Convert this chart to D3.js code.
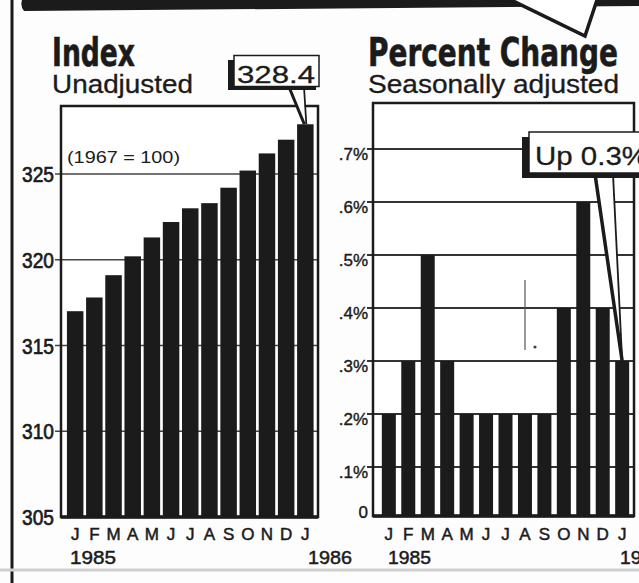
<!DOCTYPE html>
<html><head><meta charset="utf-8">
<script src="https://cdn.jsdelivr.net/npm/d3@7"></script>
<style>html,body{margin:0;padding:0;background:#fff;overflow:hidden}</style>
</head><body>
<script>
// ---- data ----
const months = ["J","F","M","A","M","J","J","A","S","O","N","D","J"];
const indexValues = [317.0, 317.8, 319.1, 320.2, 321.3, 322.2, 323.0, 323.3, 324.2, 325.2, 326.2, 327.0, 327.9];
const pctValues = [0.2, 0.3, 0.5, 0.3, 0.2, 0.2, 0.2, 0.2, 0.2, 0.4, 0.6, 0.4, 0.3];
const indexTicks = [305, 310, 315, 320, 325];
const indexTickLabels = ["305", "310", "315", "320", "325"];
const pctTicks = [0, 0.1, 0.2, 0.3, 0.4, 0.5, 0.6, 0.7];
const pctTickLabels = ["0", ".1%", ".2%", ".3%", ".4%", ".5%", ".6%", ".7%"];
const yearLabels = ["1985", "1986"];
const leftTitle = "Index", leftSub = "Unadjusted", baseNote = "(1967 = 100)";
const rightTitle = "Percent Change", rightSub = "Seasonally adjusted";
const leftCallout = "328.4", rightCallout = "Up 0.3%";

const W = 639, H = 583;
const INK = "#1b1b1b";
const CONDENSED = "'Liberation Sans Narrow','DejaVu Sans Condensed','Roboto Condensed','Liberation Sans',sans-serif";
const SANS = "'Liberation Sans','Helvetica','Arial',sans-serif";

const svg = d3.select("body").append("svg").attr("width", W).attr("height", H);
svg.append("rect").attr("width", W).attr("height", H).attr("fill", "#fdfdfd");

// top banner with pointer
svg.append("path").attr("d", "M22,0 L639,0 L639,6 L24,11 Q20,6 22,0 Z").attr("fill", INK);
svg.append("path").attr("d", "M505,-3 L585,36 L598,-3").attr("fill", "#fff").attr("stroke", INK).attr("stroke-width", 3.5).attr("stroke-linejoin", "miter");
// outer left border
svg.append("line").attr("x1", 12).attr("x2", 12).attr("y1", 0).attr("y2", H).attr("stroke", INK).attr("stroke-width", 3);
// bottom rule
svg.append("line").attr("x1", 0).attr("x2", W).attr("y1", 570).attr("y2", 570).attr("stroke", "#cfcfcf").attr("stroke-width", 3);

function txt(x, y, s, opts) {
  const t = svg.append("text").attr("x", x).attr("y", y).text(s)
    .attr("font-family", opts.family || SANS).attr("font-size", opts.size)
    .attr("font-weight", opts.weight || "normal").attr("fill", INK);
  if (opts.len) t.attr("textLength", opts.len).attr("lengthAdjust", "spacingAndGlyphs");
  if (opts.anchor) t.attr("text-anchor", opts.anchor);
  if (opts.stroke) t.attr("stroke", INK).attr("stroke-width", opts.stroke);
  return t;
}
txt(52, 66, leftTitle, {family: CONDENSED, size: 39, weight: "bold", len: 83, stroke: 0.6});
txt(52, 93, leftSub, {size: 25, len: 141, stroke: 0.3});
txt(368, 66, rightTitle, {family: CONDENSED, size: 39, weight: "bold", len: 250, stroke: 0.6});
txt(368, 93, rightSub, {size: 25, len: 251, stroke: 0.3});

// ---------- LEFT PANEL ----------
const L = {x0: 61, x1: 318, y0: 106, y1: 517};
const xL = d3.scaleBand().domain(d3.range(months.length)).range([65, 315.5]).paddingInner(0.14).paddingOuter(0.1);
const yL = d3.scaleLinear().domain([305, 325]).range([517, 174]);

svg.append("rect").attr("x", L.x0).attr("y", L.y0).attr("width", L.x1 - L.x0).attr("height", L.y1 - L.y0)
  .attr("fill", "#fff");
svg.append("g").selectAll("line").data(indexTicks.slice(1)).join("line")
  .attr("x1", 55).attr("x2", L.x1).attr("y1", d => yL(d)).attr("y2", d => yL(d))
  .attr("stroke", "#444").attr("stroke-width", 1.5);
svg.append("g").selectAll("text").data(indexTicks).join("text")
  .attr("x", 54).attr("y", d => yL(d) + 8).attr("text-anchor", "end")
  .attr("font-family", SANS).attr("font-size", 22).attr("fill", INK)
  .attr("stroke", INK).attr("stroke-width", 0.7)
  .attr("textLength", 32).attr("lengthAdjust", "spacingAndGlyphs")
  .text((d, i) => indexTickLabels[i]);
txt(67, 163, baseNote, {size: 16, len: 113});

svg.append("g").selectAll("rect").data(indexValues).join("rect")
  .attr("x", (d, i) => xL(i)).attr("width", xL.bandwidth())
  .attr("y", d => yL(d)).attr("height", d => L.y1 - yL(d))
  .attr("fill", INK);
svg.append("rect").attr("x", L.x0).attr("y", L.y0).attr("width", L.x1 - L.x0).attr("height", L.y1 - L.y0)
  .attr("fill", "none").attr("stroke", INK).attr("stroke-width", 2.5);
svg.append("line").attr("x1", L.x0).attr("x2", L.x1).attr("y1", L.y1).attr("y2", L.y1).attr("stroke", INK).attr("stroke-width", 3.5);

svg.append("g").selectAll("text").data(months).join("text")
  .attr("x", (d, i) => xL(i) + xL.bandwidth() / 2).attr("y", 540).attr("text-anchor", "middle")
  .attr("font-family", SANS).attr("font-size", 17).attr("fill", INK).attr("stroke", INK).attr("stroke-width", 0.5)
  .text(d => d);
txt(70, 564, yearLabels[0], {size: 19, len: 46, stroke: 0.5});
txt(352, 564, yearLabels[1], {size: 19, len: 44, anchor: "end", stroke: 0.5});

// 328.4 callout
const lastL = indexValues.length - 1;
const tipLx = xL(lastL) + xL.bandwidth() / 2, tipLy = yL(indexValues[lastL]);
svg.append("path").attr("d", `M289,88 L304,88 L${tipLx},${tipLy} Z`).attr("fill", "#fff");
svg.append("line").attr("x1", 289).attr("y1", 87).attr("x2", tipLx - 1).attr("y2", tipLy).attr("stroke", INK).attr("stroke-width", 3);
svg.append("line").attr("x1", 304).attr("y1", 87).attr("x2", tipLx + 1).attr("y2", tipLy).attr("stroke", INK).attr("stroke-width", 1.8);
svg.append("rect").attr("x", 228).attr("y", 60).attr("width", 88).attr("height", 30).attr("fill", INK);
svg.append("rect").attr("x", 234).attr("y", 55.5).attr("width", 85).attr("height", 31).attr("fill", "#fff").attr("stroke", INK).attr("stroke-width", 1.5);
txt(237, 83, leftCallout, {size: 24, len: 78, stroke: 0.3});

// ---------- RIGHT PANEL ----------
const R = {x0: 373, x1: 634, y0: 103, y1: 516};
const xR = d3.scaleBand().domain(d3.range(months.length)).range([376, 635]).paddingInner(0.28).paddingOuter(0.3);
const yR = d3.scaleLinear().domain([0, 0.7]).range([520, 149]);

svg.append("rect").attr("x", R.x0).attr("y", R.y0).attr("width", R.x1 - R.x0).attr("height", R.y1 - R.y0).attr("fill", "#fff");
svg.append("g").selectAll("line").data(pctTicks.slice(1)).join("line")
  .attr("x1", 367).attr("x2", R.x1).attr("y1", d => yR(d)).attr("y2", d => yR(d))
  .attr("stroke", "#333").attr("stroke-width", 1.8);
svg.append("g").selectAll("text").data(pctTicks).join("text")
  .attr("x", 368).attr("y", d => d === 0 ? R.y1 + 2 : yR(d) + 11).attr("text-anchor", "end")
  .attr("font-family", SANS).attr("font-size", 17).attr("fill", INK).attr("stroke", INK).attr("stroke-width", 0.4)
  .text((d, i) => pctTickLabels[i]);

svg.append("g").selectAll("rect").data(pctValues).join("rect")
  .attr("x", (d, i) => xR(i)).attr("width", xR.bandwidth())
  .attr("y", d => yR(d)).attr("height", d => R.y1 - yR(d))
  .attr("fill", INK);
svg.append("rect").attr("x", R.x0).attr("y", R.y0).attr("width", R.x1 - R.x0).attr("height", R.y1 - R.y0)
  .attr("fill", "none").attr("stroke", INK).attr("stroke-width", 2.5);
svg.append("line").attr("x1", R.x0).attr("x2", R.x1).attr("y1", R.y1).attr("y2", R.y1).attr("stroke", INK).attr("stroke-width", 3.5);

// small stray mark in the original print
svg.append("line").attr("x1", 525).attr("x2", 525).attr("y1", 280).attr("y2", 350).attr("stroke", "#555").attr("stroke-width", 1.2);
svg.append("circle").attr("cx", 535).attr("cy", 347).attr("r", 1.6).attr("fill", "#444");

svg.append("g").selectAll("text").data(months).join("text")
  .attr("x", (d, i) => xR(i) + xR.bandwidth() / 2).attr("y", 540).attr("text-anchor", "middle")
  .attr("font-family", SANS).attr("font-size", 17).attr("fill", INK).attr("stroke", INK).attr("stroke-width", 0.5)
  .text(d => d);
txt(388, 564, yearLabels[0], {size: 19, len: 43, stroke: 0.5});
txt(620, 564, yearLabels[1], {size: 19, len: 43, stroke: 0.5});

// Up 0.3% callout
const lastR = pctValues.length - 1;
const tipRx = xR(lastR) + xR.bandwidth() / 2, tipRy = yR(pctValues[lastR]);
svg.append("path").attr("d", `M595,175 L613,175 L${tipRx},${tipRy} Z`).attr("fill", "#fff");
svg.append("line").attr("x1", 595).attr("y1", 174).attr("x2", tipRx).attr("y2", tipRy).attr("stroke", INK).attr("stroke-width", 3.5);
svg.append("line").attr("x1", 613).attr("y1", 174).attr("x2", tipRx).attr("y2", tipRy).attr("stroke", INK).attr("stroke-width", 1.8);
svg.append("rect").attr("x", 522).attr("y", 137).attr("width", 130).attr("height", 41).attr("fill", INK);
svg.append("rect").attr("x", 529).attr("y", 132).attr("width", 130).attr("height", 41).attr("fill", "#fff").attr("stroke", INK).attr("stroke-width", 1.5);
txt(535, 165, rightCallout, {size: 26, len: 113, stroke: 0.3});
</script>
</body></html>
